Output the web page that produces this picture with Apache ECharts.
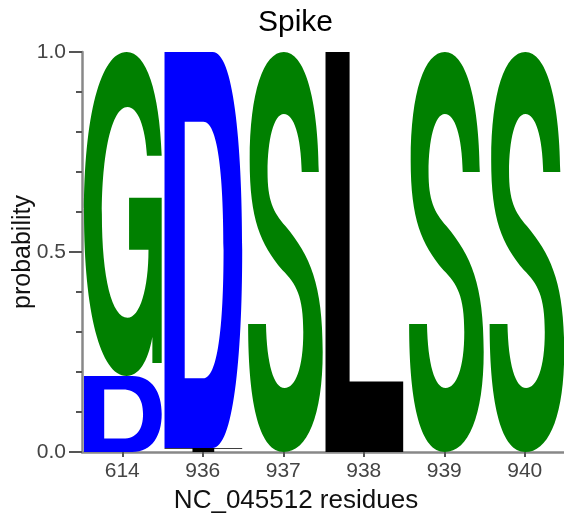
<!DOCTYPE html>
<html>
<head>
<meta charset="utf-8">
<script src="https://cdn.jsdelivr.net/npm/echarts@6/dist/echarts.min.js"></script>
<style>
html,body{margin:0;padding:0;background:#fff;}
#chart{width:564px;height:519px;}
</style>
</head>
<body>
<div id="chart"></div>
<script>
// ---- data ----
const residues = ['614', '936', '937', '938', '939', '940'];
const letters = ['G', 'D', 'S', 'L', 'T'];
const probG = [0.81, 0, 0, 0, 0, 0];
const probD = [0.19, 0.99, 0, 0, 0, 0];
const probS = [0, 0, 1, 0, 1, 1];
const probL = [0, 0, 0, 1, 0, 0];
const probT = [0, 0.01, 0, 0, 0, 0];
const yTickValues = [0, 0.5, 1];

// ---- glyph outlines (0..100 box, y down) and colours ----
const GLYPHS = {
  G: 'M55 0 C80 0 97 12 100 32 L81 32 C79 23 69 17 56 17 C35 17 23 32 23 50 C23 70 36 82 56 82 C72 82 83 73 83 61 L58 61 L58 45 L100 45 L100 96 L88 96 L88 88 C82 96 70 100 55 100 C21 100 0 80 0 50 C0 20 21 0 55 0 Z',
  D: 'M0 0 L62 0 C88 0 100 22 100 50 C100 78 88 100 62 100 L0 100 Z M26 17.6 L26 82.4 L50 82.4 C68 82.4 76 70 76 50 C76 30 68 17.6 50 17.6 Z',
  S: 'M50 0 C76 0 94 11 95 30 L73 30 C72 21 63 15.5 50 15.5 C37 15.5 29 22 29 30 C29 37 36 40 52 43.5 C84 51 100 58 100 75 C100 91 80 100 50 100 C20 100 4 89 4 68 L27 68 C28 78 37 84 51 84 C65 84 75 79 75 70 C75 61 66 58 48 54.5 C20 48 6 42 6 27 C6 10 24 0 50 0 Z',
  L: 'M0 0 L31 0 L31 82.4 L100 82.4 L100 100 L0 100 Z',
  T: 'M0 0 L100 0 L100 17 L64 17 L64 100 L36 100 L36 17 L0 17 Z'
};
const COLORS = { G: '#008000', D: '#0000ff', S: '#008000', L: '#000000', T: '#000000' };

const probs = { G: probG, D: probD, S: probS, L: probL, T: probT };
const stackData = [];
residues.forEach(function (r, i) {
  const items = letters
    .map(function (l, li) { return { li: li, p: probs[l][i] }; })
    .filter(function (d) { return d.p > 0; })
    .sort(function (a, b) { return a.p - b.p; });
  let base = 0;
  items.forEach(function (d) {
    stackData.push([i, base, base + d.p, d.li]);
    base += d.p;
  });
});

const chart = echarts.init(document.getElementById('chart'));
const FONT = 'Liberation Sans, Arial, Helvetica, sans-serif';

chart.setOption({
  animation: false,
  backgroundColor: '#ffffff',
  title: {
    text: 'Spike',
    left: 253,
    top: 3,
    textStyle: { fontFamily: FONT, fontSize: 30, fontWeight: 'normal', color: '#000' }
  },
  grid: { left: 82, top: 52, bottom: 67, width: 483, containLabel: false, outerBoundsMode: 'none' },
  xAxis: {
    type: 'category',
    data: residues,
    name: 'NC_045512 residues',
    nameLocation: 'middle',
    nameGap: 36,
    nameMoveOverlap: false,
    nameTextStyle: { fontFamily: FONT, fontSize: 26, color: '#111', padding: [0, 55, 0, 0] },
    axisLine: { show: true, lineStyle: { color: '#888', width: 2.5 } },
    axisTick: { show: true, alignWithLabel: true, length: 5, lineStyle: { color: '#555', width: 2 } },
    axisLabel: { fontFamily: FONT, fontSize: 21, color: '#444', margin: 9 },
    splitLine: { show: false }
  },
  yAxis: {
    type: 'value',
    min: 0,
    max: 1,
    interval: 0.5,
    name: 'probability',
    nameLocation: 'middle',
    nameGap: 46,
    nameMoveOverlap: false,
    nameTextStyle: { fontFamily: FONT, fontSize: 25, color: '#111' },
    axisLine: { show: true, lineStyle: { color: '#888', width: 2.5 } },
    axisTick: { show: true, length: 13, lineStyle: { color: '#555', width: 2 } },
    minorTick: { show: true, splitNumber: 5, length: 6, lineStyle: { color: '#555', width: 2 } },
    axisLabel: {
      fontFamily: FONT, fontSize: 21, color: '#444', margin: 16,
      formatter: function (v) { return yTickValues.indexOf(v) >= 0 ? v.toFixed(1) : ''; }
    },
    splitLine: { show: false }
  },
  series: [{
    type: 'custom',
    clip: false,
    encode: { x: 0, y: [1, 2] },
    data: stackData,
    renderItem: function (params, api) {
      const i = api.value(0);
      const y0 = api.value(1);
      const y1 = api.value(2);
      const letter = letters[api.value(3)];
      const bottom = api.coord([i, y0]);
      const top = api.coord([i, y1]);
      const w = api.size([1, 0])[0];
      const left = bottom[0] - w / 2;
      const h = bottom[1] - top[1];
      return {
        type: 'path',
        x: left + w * 0.025,
        y: top[1],
        scaleX: (w * 0.965) / 100,
        scaleY: h / 100,
        shape: { pathData: GLYPHS[letter] },
        style: { fill: COLORS[letter] }
      };
    }
  }]
});
</script>
</body>
</html>
